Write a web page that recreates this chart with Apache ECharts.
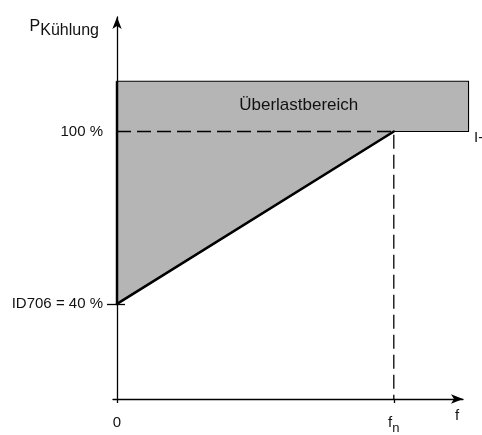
<!DOCTYPE html>
<html><head><meta charset="utf-8">
<script src="https://cdn.jsdelivr.net/npm/echarts@6/dist/echarts.min.js"></script>
<style>html,body{margin:0;padding:0;background:#fff}#c{width:482px;height:435px}</style>
</head><body><div id="c"></div>
<script>
// ---- data ----
const yTickValues = [40, 100];
const yTickLabels = ['ID706 = 40 %', '100 %'];
const xTickValues = [0, 1];
const xTickLabels = ['0', '{f|f}{n|n}'];
const yAxisName = '{p|P}{s|Kühlung}';
const xAxisName = 'f';
// overload region (f relative to f_n, power in %)
const overloadX = [0, 0, 1.27, 1.27, 1, 0];
const overloadY = [40, 117.5, 117.5, 100, 100, 40];
const overloadText = 'Überlastbereich';
// cooling characteristic: 40 % at f=0 rising to 100 % at f_n
const curveX = [0, 1];
const curveY = [40, 100];
// guides at f_n and 100 %
const guideX = [0, 1, 1];
const guideY = [100, 100, 6.93];
const clippedText = 'I-';
// axis ranges
const yMin = 6.93, yMax = 139.84, xMin = -0.0145, xMax = 1.25;

const font = '"Liberation Sans", Arial, sans-serif';
const ink = '#111';

const chart = echarts.init(document.getElementById('c'), null, {renderer: 'canvas'});
const option = {
  animation: false,
  backgroundColor: '#fff',
  grid: {left: 113, right: 19, top: 17, bottom: 31, containLabel: false},
  xAxis: {
    type: 'value', min: xMin, max: xMax,
    splitLine: {show: false},
    axisLine: {onZero: false, lineStyle: {color: '#000', width: 1.3}, symbol: ['none', 'arrow'], symbolSize: [7, 12]},
    axisTick: {show: true, length: 4, customValues: xTickValues, lineStyle: {color: '#000', width: 1.3}},
    axisLabel: {
      customValues: xTickValues, margin: 16, color: ink, fontFamily: font, fontSize: 15,
      formatter: v => xTickLabels[xTickValues.indexOf(v)],
      rich: {
        f: {fontFamily: font, fontSize: 15, color: ink, lineHeight: 16, verticalAlign: 'top'},
        n: {fontFamily: font, fontSize: 13, color: ink, lineHeight: 14, verticalAlign: 'top', padding: [7, 0, 0, 0]}
      }
    },
    name: xAxisName, nameLocation: 'end', nameGap: -8,
    nameTextStyle: {color: ink, fontFamily: font, fontSize: 15, align: 'left', verticalAlign: 'top', padding: [9, 0, 0, 0]}
  },
  yAxis: [{
    type: 'value', min: yMin, max: yMax,
    splitLine: {show: false},
    axisLine: {onZero: true, onZeroAxisIndex: 0, lineStyle: {color: '#000', width: 1.3}, symbol: ['none', 'arrow'], symbolSize: [7, 12]},
    axisTick: {show: true, length: 10, customValues: [yTickValues[0]], lineStyle: {color: '#000', width: 1.3}},
    axisLabel: {
      customValues: yTickValues, margin: 10, color: ink, fontFamily: font, fontSize: 15,
      formatter: v => yTickLabels[yTickValues.indexOf(v)]
    },
    name: yAxisName, nameLocation: 'end', nameGap: -2,
    nameTextStyle: {
      align: 'right', verticalAlign: 'top', padding: [0, 18, 0, 0],
      rich: {
        p: {fontFamily: font, fontSize: 16, color: ink, lineHeight: 16, verticalAlign: 'top'},
        s: {fontFamily: font, fontSize: 16, color: ink, lineHeight: 16, verticalAlign: 'top', padding: [4, 0, 0, 0]}
      }
    }
  }, {
    type: 'value', min: yMin, max: yMax, position: 'left',
    splitLine: {show: false},
    axisLine: {show: false, onZero: true, onZeroAxisIndex: 0},
    axisTick: {show: true, inside: true, length: 8, customValues: [yTickValues[0]], lineStyle: {color: '#000', width: 1.3}},
    axisLabel: {show: false}
  }],
  graphic: [{
    type: 'text', left: 474, top: 130, silent: true,
    style: {text: clippedText, fill: ink, font: '15px ' + font}
  }],
  series: [{
    type: 'custom', coordinateSystem: 'cartesian2d', clip: false, silent: true, z: 2,
    data: overloadX.map((x, i) => [x, overloadY[i]]),
    encode: {x: 0, y: 1},
    renderItem: function (params, api) {
      if (params.dataIndex !== 0) return null;
      const pts = overloadX.map((x, i) => api.coord([x, overloadY[i]]));
      const tl = pts[1], tr = pts[2], br = pts[3];
      return {
        type: 'group',
        children: [{
          type: 'polygon', shape: {points: pts},
          style: {fill: '#b4b5b4', stroke: '#000', lineWidth: 1.1}
        }, {
          type: 'polyline', shape: {points: [pts[1], pts[0]]},
          style: {fill: null, stroke: '#000', lineWidth: 2.5}
        }, {
          type: 'text',
          style: {
            text: overloadText, x: (tl[0] + tr[0]) / 2 + 6, y: (tl[1] + br[1]) / 2 - 1,
            align: 'center', verticalAlign: 'middle', fill: ink, font: '17px ' + font
          }
        }]
      };
    }
  }, {
    type: 'line', silent: true, z: 3, clip: false, symbol: 'none',
    data: guideX.map((x, i) => [x, guideY[i]]),
    lineStyle: {color: '#000', width: 1.3, type: [14, 6]}
  }, {
    type: 'line', silent: true, z: 4, clip: false, symbol: 'none',
    data: curveX.map((x, i) => [x, curveY[i]]),
    lineStyle: {color: '#000', width: 2.6, cap: 'round'}
  }]
};
chart.setOption(option);
</script>
</body></html>
